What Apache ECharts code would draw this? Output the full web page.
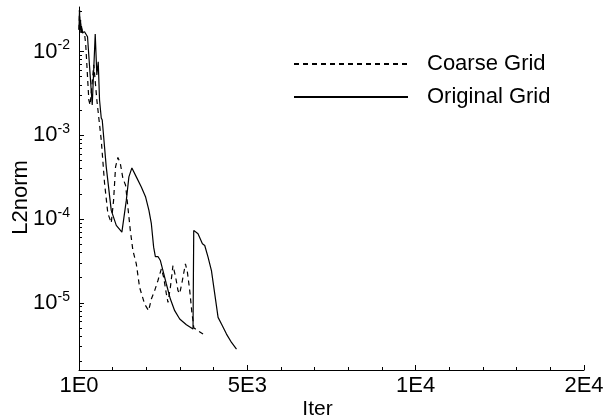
<!DOCTYPE html>
<html>
<head>
<meta charset="utf-8">
<script src="https://cdn.jsdelivr.net/npm/echarts@6/dist/echarts.min.js"></script>
<style>
  html, body { margin: 0; padding: 0; background: #fff; }
  #chart { width: 605px; height: 419px; }
</style>
</head>
<body>
<div id="chart"></div>
<script>
// Residual history (L2 norm) for the two grids
const seriesNames = ['Coarse Grid', 'Original Grid'];

const coarseIter = [0, 15, 30, 45, 60, 74, 100, 130, 164, 200, 292, 330, 440, 530, 661, 759, 857, 958, 1027, 1086,
  1155, 1226, 1303, 1384, 1452, 1524, 1601, 1702, 1800, 1949, 2068, 2149, 2247, 2345, 2446, 2515, 2595, 2643, 2714,
  2791, 2872, 2940, 2991, 3071, 3161, 3220, 3289, 3357, 3387, 3408, 3535, 3684];
const coarseL2 = [0.0182, 0.0316, 0.0182, 0.0240, 0.0168, 0.0200, 0.0168, 0.0172, 0.0165, 0.0120, 0.00264, 0.00230, 0.00694,
  0.00264, 0.000877, 0.000268, 0.000117, 0.0000900, 0.000167, 0.000420,
  0.000544, 0.000465, 0.000307, 0.000253, 0.000139, 0.0000733, 0.0000422, 0.0000292, 0.0000153, 0.00000970, 0.00000807,
  0.0000111, 0.0000140, 0.0000185, 0.0000255, 0.0000202, 0.0000128, 0.0000101, 0.0000153,
  0.0000279, 0.0000202, 0.0000140, 0.0000129, 0.0000185, 0.0000292, 0.0000232, 0.0000140, 0.00000737, 0.00000612,
  0.00000505, 0.00000464, 0.00000424];

const originalIter = [0, 15, 30, 45, 60, 74, 100, 164, 223, 253, 393, 482, 530, 571, 610, 661, 690, 809, 958, 1107,
  1274, 1405, 1482, 1571, 1702, 1851, 1979, 2077, 2149, 2217, 2268, 2345, 2417, 2494, 2595, 2714, 2842, 2991, 3190,
  3387, 3408, 3467, 3535, 3586, 3666, 3735, 3833, 3934, 4032, 4131, 4232, 4381, 4530, 4678];
const originalL2 = [0.0182, 0.0316, 0.0182, 0.0240, 0.0168, 0.0200, 0.0168, 0.0172, 0.0168, 0.0150, 0.00230, 0.0162,
  0.00526, 0.00754, 0.00264, 0.00161, 0.00152, 0.000420, 0.000127, 0.0000841,
  0.0000699, 0.000167, 0.000319, 0.000408, 0.000319, 0.000242, 0.000183, 0.000127, 0.0000881, 0.0000462, 0.0000357,
  0.0000357, 0.0000320, 0.0000243, 0.0000168, 0.0000111, 0.00000807, 0.00000641, 0.00000548,
  0.00000487, 0.0000733, 0.0000747, 0.0000668, 0.0000699, 0.0000507, 0.0000484, 0.0000351, 0.0000243, 0.0000128,
  0.00000671, 0.00000559, 0.00000424, 0.00000337, 0.00000281];

// Axis ticks
const xTickValues = [0, 5000, 10000, 15000];
const xTickLabels = ['1E0', '5E3', '1E4', '2E4'];
const yTickValues = [1e-5, 1e-4, 1e-3, 1e-2];
const yTickExponents = ['-5', '-4', '-3', '-2'];
const yMinorTicks = [2e-6, 3e-6, 4e-6, 5e-6, 6e-6, 7e-6, 8e-6, 9e-6,
  2e-5, 3e-5, 4e-5, 5e-5, 6e-5, 7e-5, 8e-5, 9e-5,
  2e-4, 3e-4, 4e-4, 5e-4, 6e-4, 7e-4, 8e-4, 9e-4,
  2e-3, 3e-3, 4e-3, 5e-3, 6e-3, 7e-3, 8e-3, 9e-3,
  2e-2, 3e-2];

const FONT = '"Liberation Sans", Arial, Helvetica, sans-serif';
const pairs = (xs, ys) => xs.map((x, i) => [x, ys[i]]);

const chart = echarts.init(document.getElementById('chart'), null, { renderer: 'canvas' });

const yBase = {
  type: 'log',
  logBase: 10,
  min: 1.58e-6,
  max: 0.034,
  position: 'left',
  splitLine: { show: false },
  minorTick: { show: false }
};

chart.setOption({
  animation: false,
  backgroundColor: '#fff',
  grid: { left: 79, right: 21, top: 7, bottom: 49, containLabel: false, outerBoundsMode: 'none' },
  legend: {
    orient: 'vertical',
    left: 293,
    top: 53,
    padding: 0,
    itemWidth: 114,
    itemHeight: 14,
    itemGap: 11,
    data: seriesNames,
    itemStyle: { opacity: 0 },
    textStyle: { fontFamily: FONT, fontSize: 22, color: '#000', padding: [0, 0, 0, 14] }
  },
  xAxis: {
    type: 'value',
    min: 0,
    max: 15000,
    interval: 5000,
    name: 'Iter',
    nameLocation: 'middle',
    nameGap: 29,
    nameMoveOverlap: false,
    nameTextStyle: { fontFamily: FONT, fontSize: 21, color: '#000', padding: [0, 28, 0, 0] },
    axisLine: { lineStyle: { color: '#000', width: 1 } },
    axisTick: { inside: true, length: 5, lineStyle: { color: '#000' } },
    minorTick: { show: true, splitNumber: 5, length: 3, lineStyle: { color: '#000' } },
    splitLine: { show: false },
    axisLabel: {
      margin: 5,
      fontFamily: FONT,
      fontSize: 22,
      color: '#000',
      showMinLabel: true,
      showMaxLabel: true,
      formatter: v => {
        const i = xTickValues.indexOf(v);
        return i >= 0 ? xTickLabels[i] : '';
      }
    }
  },
  yAxis: [
    Object.assign({}, yBase, {
      name: 'L2norm',
      nameLocation: 'middle',
      nameGap: 47,
      nameMoveOverlap: false,
      nameTextStyle: { fontFamily: FONT, fontSize: 22, color: '#000', padding: [0, 18, 0, 0] },
      axisLine: { show: true, lineStyle: { color: '#000', width: 1 } },
      axisTick: { show: true, inside: true, length: 5, customValues: yTickValues, lineStyle: { color: '#000' } },
      axisLabel: {
        margin: 9,
        customValues: yTickValues,
        formatter: v => {
          let i = -1;
          yTickValues.forEach((t, k) => { if (Math.abs(Math.log10(v) - Math.log10(t)) < 1e-6) i = k; });
          return i >= 0 ? '{b|10}{s|' + yTickExponents[i] + '}' : '';
        },
        rich: {
          b: { fontFamily: FONT, fontSize: 22, color: '#000' },
          s: { fontFamily: FONT, fontSize: 14, color: '#000', padding: [0, 0, 12, 0] }
        }
      }
    }),
    Object.assign({}, yBase, {
      axisLine: { show: false },
      axisTick: { show: true, inside: true, length: 3, customValues: yMinorTicks, lineStyle: { color: '#000' } },
      axisLabel: { show: false }
    })
  ],
  series: [
    {
      name: seriesNames[0],
      type: 'line',
      yAxisIndex: 0,
      symbol: 'none',
      data: pairs(coarseIter, coarseL2),
      lineStyle: { color: '#000', width: 1.2, type: [5, 4] },
      itemStyle: { color: '#000' }
    },
    {
      name: seriesNames[1],
      type: 'line',
      yAxisIndex: 0,
      symbol: 'none',
      data: pairs(originalIter, originalL2),
      lineStyle: { color: '#000', width: 1.2, type: 'solid' },
      itemStyle: { color: '#000' }
    }
  ]
});
</script>
</body>
</html>
